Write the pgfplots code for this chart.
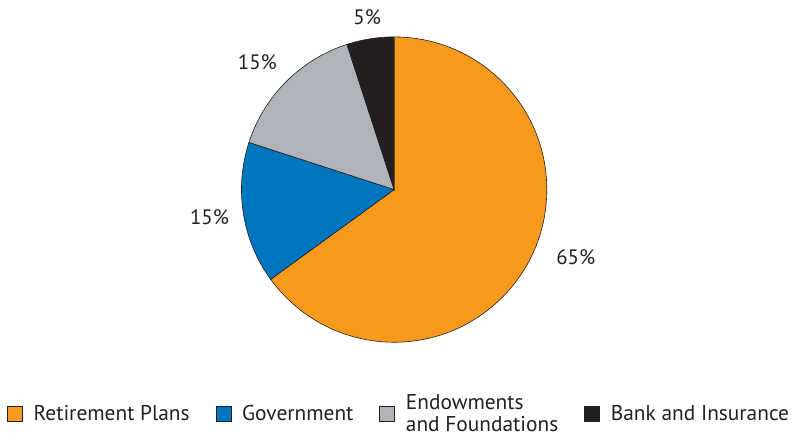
\documentclass[border=0pt]{standalone}
\usepackage{pgfplots}
\usepackage{pgfplotstable}
\pgfplotsset{compat=1.18}
\usepackage{fontspec}
\setmainfont{PT Sans}

\definecolor{retire}{HTML}{F7991D}
\definecolor{govt}{HTML}{0075BF}
\definecolor{endow}{HTML}{AEB4BA}
\definecolor{bank}{HTML}{231F20}
\definecolor{txt}{HTML}{231F20}

% share in percent, slice colour, label position (pixel grid, y up)
\pgfplotstableread{
share color lx ly
65 retire 577 182
15 govt 210 222
15 endow 258 378
5 bank 368 423
}\piedata

\begin{document}
\begin{tikzpicture}
\begin{axis}[
  scale only axis, width=794bp, height=440bp,
  xmin=0, xmax=794, ymin=0, ymax=440,
  hide axis, clip=false,
  legend columns=4,
  legend image code/.code={\draw[#1, draw=txt, line width=0.6pt] (0bp,-7.5bp) rectangle (15bp,7.5bp);},
  legend style={at={(axis cs:4,25)}, anchor=west, draw=none, fill=none,
    font=\fontsize{21.5}{22}\selectfont, text=txt,
    cells={anchor=west, align=left},
    /tikz/every odd column/.append style={column sep=9bp},
    /tikz/every even column/.append style={column sep=24bp}},
]
\path (rel axis cs:0,0) rectangle (rel axis cs:1,1);
\xdef\angstart{90}
\pgfplotsinvokeforeach{0,...,3}{
  \pgfplotstablegetelem{#1}{share}\of\piedata \let\share\pgfplotsretval
  \pgfplotstablegetelem{#1}{color}\of\piedata \let\col\pgfplotsretval
  \pgfmathsetmacro\angend{\angstart-3.6*\share}
  \edef\temp{\noexpand\filldraw[fill=\col, draw=txt, line width=0.6pt]
    (axis cs:395,250) -- ++(\angstart:153bp)
    arc[start angle=\angstart, end angle=\angend, radius=153bp] -- cycle;}
  \temp
  \global\let\angstart\angend
}
\addplot[draw=none, mark=none, forget plot,
  nodes near coords={\pgfplotspointmeta\%},
  nodes near coords align=center, point meta=explicit symbolic,
  every node near coord/.append style={font=\fontsize{21}{22}\selectfont, text=txt}]
  table[x=lx, y=ly, meta=share] {\piedata};
\addlegendimage{fill=retire}
\addlegendentry{Retirement Plans}
\addlegendimage{fill=govt}
\addlegendentry{Government}
\addlegendimage{fill=endow}
\addlegendentry{Endowments\\and Foundations}
\addlegendimage{fill=bank}
\addlegendentry{Bank and Insurance}
\end{axis}
\end{tikzpicture}
\end{document}
